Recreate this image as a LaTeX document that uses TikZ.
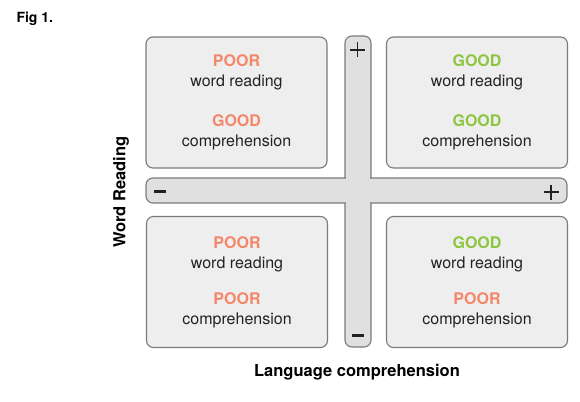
\documentclass[tikz,border=0pt]{standalone}
\usepackage{fontspec}
\setmainfont{TeX Gyre Heros}

\definecolor{poorcol}{HTML}{F4876A}
\definecolor{goodcol}{HTML}{8CC63F}
\definecolor{boxfill}{HTML}{EEEEEE}
\definecolor{barfill}{HTML}{E0E0E0}
\definecolor{edgecol}{HTML}{7A7A7A}
\definecolor{inkcol}{HTML}{222222}

\newcommand{\poorword}{\textcolor{poorcol}{\textbf{POOR}}}
\newcommand{\goodword}{\textcolor{goodcol}{\textbf{GOOD}}}
\newcommand{\goodpoorcol}{\textcolor{poorcol}{\textbf{GOOD}}}

\tikzset{
  quadrant/.style={draw=edgecol, fill=boxfill, line width=1.1pt, rounded corners=7pt,
    minimum width=181pt, minimum height=131pt, inner sep=0pt, align=center,
    text=inkcol, font=\fontsize{16}{20}\selectfont},
  axisbar/.style={draw=edgecol, fill=barfill, line width=1.1pt, rounded corners=7pt},
  signmark/.style={inner sep=0pt, text=inkcol},
  signline/.style={draw=inkcol, line width=1.6pt},
  axislabel/.style={font=\bfseries\fontsize{16.5}{20}\selectfont}
}

\begin{document}
\begin{tikzpicture}[x=1pt, y=-1pt]
    \useasboundingbox (0,0) rectangle (580,401);

    \node[anchor=west, font=\bfseries\fontsize{14}{16}\selectfont] (fig) at (13,19) {Fig 1.};

    % Draw the cross of the two axes
    \draw[axisbar] (345,36) rectangle (371,347);
    \draw[axisbar] (146,178) rectangle (567,203);
    \fill[barfill] (345.7,176) rectangle (370.3,205);
    \fill[barfill] (343,178.7) rectangle (373,202.3);

    % Signs at the ends
    \coordinate (vplus) at (357.5,50);
    \coordinate (hplus) at (551,192);
    \draw[signline] (vplus) ++(-7.5,0) -- ++(15,0) (vplus) ++(0,-7.5) -- ++(0,15);
    \draw[signline] (hplus) ++(-7.5,0) -- ++(15,0) (hplus) ++(0,-7.5) -- ++(0,15);
    \node[signmark] (hminus) at (160,191) {\rule{12pt}{3pt}};
    \node[signmark] (vminus) at (357.5,335) {\rule{12pt}{3pt}};

    % Draw the four quadrants
    \node[quadrant] (poorgood) at (236.5,102.5) {\poorword\\word reading\\[20pt]\goodpoorcol\\comprehension};
    \node[quadrant] (goodgood) at (477,102.5) {\goodword\\word reading\\[20pt]\goodword\\comprehension};
    \node[quadrant] (poorpoor) at (237,282) {\poorword\\word reading\\[16pt]\poorword\\comprehension};
    \node[quadrant] (goodpoor) at (477,282) {\goodword\\word reading\\[16pt]\poorword\\comprehension};

    % Axis labels
    \node[axislabel, rotate=90] (ylabel) at (121,192) {Word Reading};
    \node[axislabel] (xlabel) at (357,372) {Language comprehension};

\end{tikzpicture}
\end{document}
